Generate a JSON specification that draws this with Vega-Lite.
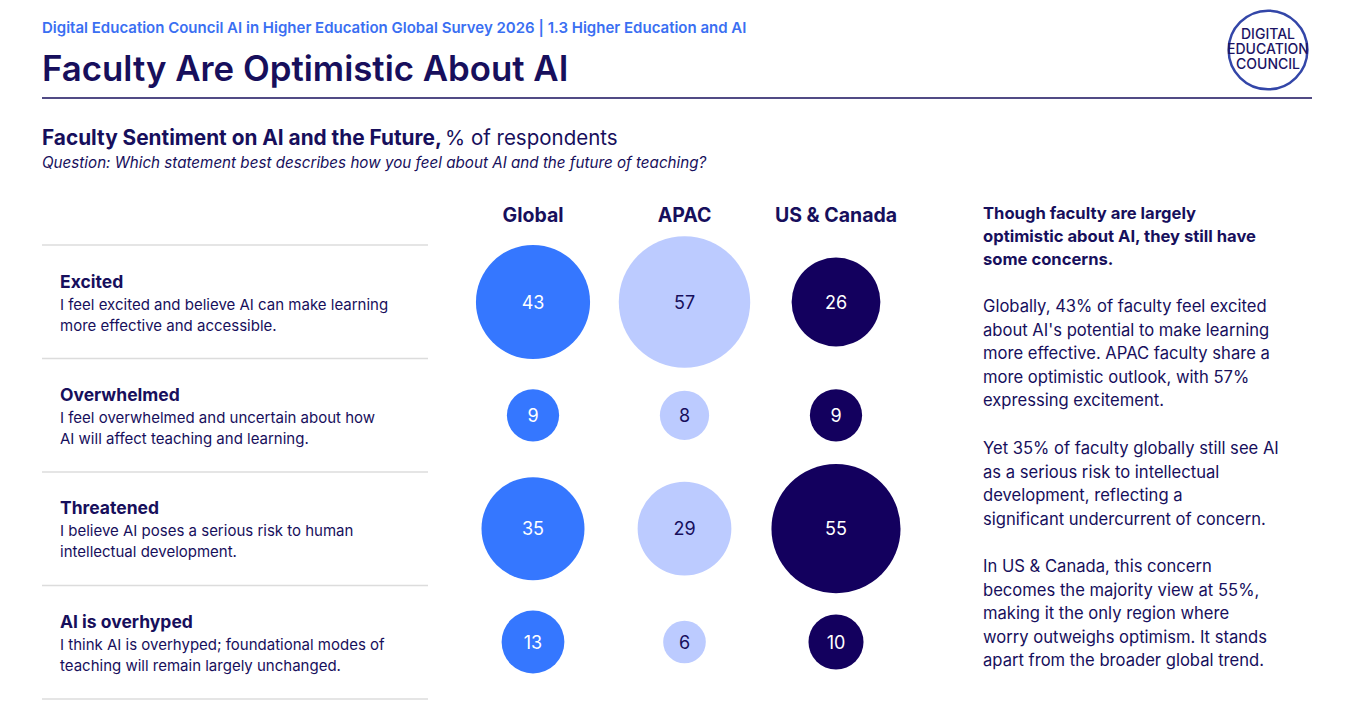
{
  "$schema": "https://vega.github.io/schema/vega-lite/v6.json",
  "width": 1345,
  "height": 704,
  "autosize": {"type": "fit", "contains": "padding"},
  "padding": 0,
  "background": "white",
  "config": {
    "view": {"stroke": null},
    "text": {"font": "Inter", "color": "#170f5c"},
    "axis": {"domain": false}
  },
  "datasets": {
    "sentiment": [
      {"category": "Excited", "region": "Global", "value": 43},
      {"category": "Excited", "region": "APAC", "value": 57},
      {"category": "Excited", "region": "US & Canada", "value": 26},
      {"category": "Overwhelmed", "region": "Global", "value": 9},
      {"category": "Overwhelmed", "region": "APAC", "value": 8},
      {"category": "Overwhelmed", "region": "US & Canada", "value": 9},
      {"category": "Threatened", "region": "Global", "value": 35},
      {"category": "Threatened", "region": "APAC", "value": 29},
      {"category": "Threatened", "region": "US & Canada", "value": 55},
      {"category": "AI is overhyped", "region": "Global", "value": 13},
      {"category": "AI is overhyped", "region": "APAC", "value": 6},
      {"category": "AI is overhyped", "region": "US & Canada", "value": 10}
    ],
    "statements": [
      {"category": "Excited", "desc": "I feel excited and believe AI can make learning\nmore effective and accessible."},
      {"category": "Overwhelmed", "desc": "I feel overwhelmed and uncertain about how\nAI will affect teaching and learning."},
      {"category": "Threatened", "desc": "I believe AI poses a serious risk to human\nintellectual development."},
      {"category": "AI is overhyped", "desc": "I think AI is overhyped; foundational modes of\nteaching will remain largely unchanged."}
    ],
    "regions": [
      {"region": "Global"},
      {"region": "APAC"},
      {"region": "US & Canada"}
    ],
    "edges": [
      {"edge": 0}, {"edge": 1}, {"edge": 2}, {"edge": 3}, {"edge": 4}
    ]
  },
  "resolve": {"scale": {"y": "independent"}},
  "layer": [
    {
      "data": {"values": [{}]},
      "mark": {"type": "text", "x": 42, "y": 33, "align": "left", "baseline": "alphabetic", "fontSize": 15, "fontWeight": 600, "color": "#3a6ff2", "text": "Digital Education Council AI in Higher Education Global Survey 2026 | 1.3 Higher Education and AI"},
      "encoding": {}
    },
    {
      "data": {"values": [{}]},
      "mark": {"type": "text", "x": 42, "y": 81, "align": "left", "baseline": "alphabetic", "fontSize": 34.8, "fontWeight": 600, "text": "Faculty Are Optimistic About AI"},
      "encoding": {}
    },
    {
      "data": {"values": [{}]},
      "mark": {"type": "rule", "color": "#170f5c", "strokeWidth": 1.5},
      "encoding": {"x": {"value": 42}, "x2": {"value": 1312}, "y": {"value": 98}}
    },
    {
      "data": {"values": [{}]},
      "mark": {"type": "point", "shape": "circle", "size": 6200, "filled": false, "stroke": "#3346a8", "strokeWidth": 2.5, "opacity": 1},
      "encoding": {"x": {"value": 1268}, "y": {"value": 50}}
    },
    {
      "data": {"values": [{}]},
      "mark": {"type": "text", "x": 1268, "y": 39, "align": "center", "baseline": "alphabetic", "fontSize": 14, "fontWeight": 500, "lineHeight": 15, "color": "#1b1464", "text": ["DIGITAL", "EDUCATION", "COUNCIL"]},
      "encoding": {}
    },
    {
      "data": {"values": [{}]},
      "mark": {"type": "text", "x": 42, "y": 145, "align": "left", "baseline": "alphabetic", "fontSize": 20.8, "fontWeight": 700, "text": "Faculty Sentiment on AI and the Future,"},
      "encoding": {}
    },
    {
      "data": {"values": [{}]},
      "mark": {"type": "text", "x": 445, "y": 145, "align": "left", "baseline": "alphabetic", "fontSize": 20.5, "fontWeight": 400, "text": "% of respondents"},
      "encoding": {}
    },
    {
      "data": {"values": [{}]},
      "mark": {"type": "text", "x": 42, "y": 167.5, "align": "left", "baseline": "alphabetic", "fontSize": 15.2, "fontStyle": "italic", "text": "Question: Which statement best describes how you feel about AI and the future of teaching?"},
      "encoding": {}
    },
    {
      "data": {"name": "edges"},
      "mark": {"type": "rule", "color": "#dcdcdc", "strokeWidth": 1.5},
      "encoding": {
        "x": {"value": 42},
        "x2": {"value": 428},
        "y": {"field": "edge", "type": "quantitative", "scale": {"domain": [0, 4], "range": [245, 699], "zero": false, "nice": false}, "axis": null}
      }
    },
    {
      "data": {"name": "regions"},
      "mark": {"type": "text", "y": 221.5, "baseline": "alphabetic", "align": "center", "fontSize": 19.5, "fontWeight": 700},
      "encoding": {
        "x": {"field": "region", "type": "nominal", "scale": {"type": "point", "domain": ["Global", "APAC", "US & Canada"], "range": [533, 836], "padding": 0}, "axis": null},
        "text": {"field": "region"}
      }
    },
    {
      "data": {"name": "statements"},
      "mark": {"type": "text", "x": 60, "dy": -14.5, "align": "left", "baseline": "alphabetic", "fontSize": 17.5, "fontWeight": 700},
      "encoding": {
        "y": {"field": "category", "type": "nominal", "scale": {"type": "point", "domain": ["Excited", "Overwhelmed", "Threatened", "AI is overhyped"], "range": [302, 642], "padding": 0}, "axis": null},
        "text": {"field": "category"}
      }
    },
    {
      "data": {"name": "statements"},
      "mark": {"type": "text", "x": 60, "dy": 7.5, "align": "left", "baseline": "alphabetic", "fontSize": 15, "fontWeight": 400, "lineBreak": "\n", "lineHeight": 21},
      "encoding": {
        "y": {"field": "category", "type": "nominal", "scale": {"type": "point", "domain": ["Excited", "Overwhelmed", "Threatened", "AI is overhyped"], "range": [302, 642], "padding": 0}, "axis": null},
        "text": {"field": "desc"}
      }
    },
    {
      "data": {"name": "sentiment"},
      "mark": {"type": "point", "shape": "circle", "filled": true, "opacity": 1, "strokeWidth": 0},
      "encoding": {
        "x": {"field": "region", "type": "nominal", "scale": {"type": "point", "domain": ["Global", "APAC", "US & Canada"], "range": [533, 836], "padding": 0}, "axis": null},
        "y": {"field": "category", "type": "nominal", "scale": {"type": "point", "domain": ["Excited", "Overwhelmed", "Threatened", "AI is overhyped"], "range": [302, 642], "padding": 0}, "axis": null},
        "size": {"field": "value", "type": "quantitative", "scale": {"type": "linear", "domain": [0, 100], "range": [0, 30300]}, "legend": null},
        "color": {"field": "region", "type": "nominal", "scale": {"domain": ["Global", "APAC", "US & Canada"], "range": ["#3577ff", "#bccbff", "#13005e"]}, "legend": null}
      }
    },
    {
      "data": {"name": "sentiment"},
      "mark": {"type": "text", "align": "center", "baseline": "middle", "fontSize": 18, "fontWeight": 400, "dy": 1.5},
      "encoding": {
        "x": {"field": "region", "type": "nominal", "scale": {"type": "point", "domain": ["Global", "APAC", "US & Canada"], "range": [533, 836], "padding": 0}, "axis": null},
        "y": {"field": "category", "type": "nominal", "scale": {"type": "point", "domain": ["Excited", "Overwhelmed", "Threatened", "AI is overhyped"], "range": [302, 642], "padding": 0}, "axis": null},
        "text": {"field": "value", "type": "quantitative"},
        "color": {"condition": {"test": "datum.region === 'APAC'", "value": "#170f5c"}, "value": "#ffffff"}
      }
    },
    {
      "data": {"values": [{}]},
      "mark": {"type": "text", "x": 983, "y": 219, "align": "left", "baseline": "alphabetic", "fontSize": 16.6, "fontWeight": 700, "lineHeight": 23, "text": ["Though faculty are largely", "optimistic about AI, they still have", "some concerns."]},
      "encoding": {}
    },
    {
      "data": {"values": [{}]},
      "mark": {"type": "text", "x": 983, "y": 312, "align": "left", "baseline": "alphabetic", "fontSize": 16.6, "fontWeight": 400, "lineHeight": 23.6, "text": ["Globally, 43% of faculty feel excited", "about AI's potential to make learning", "more effective. APAC faculty share a", "more optimistic outlook, with 57%", "expressing excitement."]},
      "encoding": {}
    },
    {
      "data": {"values": [{}]},
      "mark": {"type": "text", "x": 983, "y": 454, "align": "left", "baseline": "alphabetic", "fontSize": 16.6, "fontWeight": 400, "lineHeight": 23.6, "text": ["Yet 35% of faculty globally still see AI", "as a serious risk to intellectual", "development, reflecting a", "significant undercurrent of concern."]},
      "encoding": {}
    },
    {
      "data": {"values": [{}]},
      "mark": {"type": "text", "x": 983, "y": 572, "align": "left", "baseline": "alphabetic", "fontSize": 16.6, "fontWeight": 400, "lineHeight": 23.6, "text": ["In US & Canada, this concern", "becomes the majority view at 55%,", "making it the only region where", "worry outweighs optimism. It stands", "apart from the broader global trend."]},
      "encoding": {}
    }
  ]
}
